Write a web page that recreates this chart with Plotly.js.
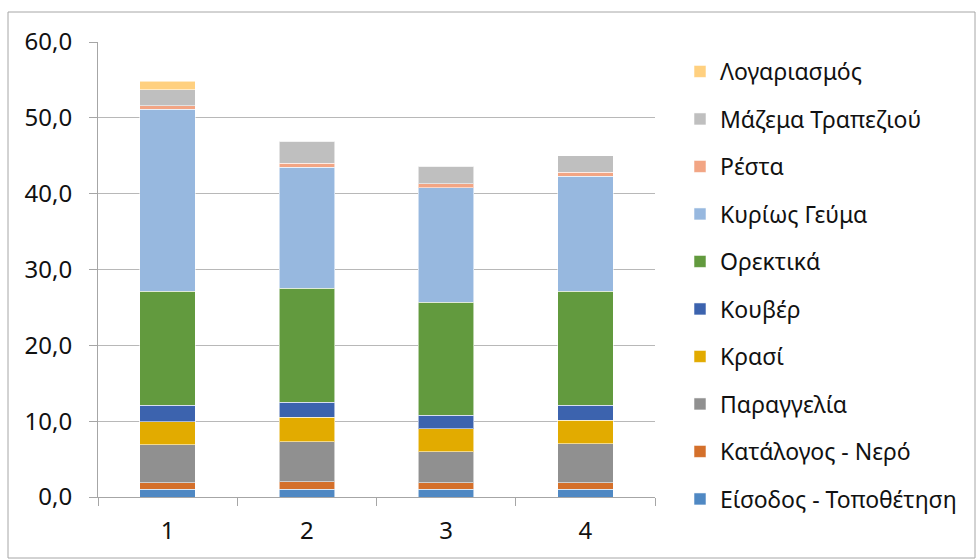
<!DOCTYPE html>
<html>
<head>
<meta charset="utf-8">
<script src="https://cdn.plot.ly/plotly-3.0.1.min.js"></script>
<style>
  html, body { margin: 0; padding: 0; background: #ffffff; }
  #chart { width: 976px; height: 559px; }
</style>
</head>
<body>
<div id="chart"></div>
<script>
// Restaurant service time per stage (minutes), four tables
const tables = ['1', '2', '3', '4'];

const stages = [
  'Είσοδος - Τοποθέτηση',
  'Κατάλογος - Νερό',
  'Παραγγελία',
  'Κρασί',
  'Κουβέρ',
  'Ορεκτικά',
  'Κυρίως Γεύμα',
  'Ρέστα',
  'Μάζεμα Τραπεζιού',
  'Λογαριασμός'
];

const eisodos     = [1.0, 1.0, 1.0, 1.0];
const katalogos   = [0.9, 1.0, 0.9, 0.9];
const paraggelia  = [5.0, 5.3, 4.1, 5.1];
const krasi       = [3.0, 3.2, 3.0, 3.1];
const kouver      = [2.2, 2.0, 1.8, 2.0];
const orektika    = [15.0, 15.0, 14.9, 15.0];
const kyrios      = [24.0, 16.0, 15.1, 15.2];
const resta       = [0.5, 0.5, 0.5, 0.5];
const mazema      = [2.1, 2.9, 2.3, 2.2];
const logariasmos = [1.1, 0.0, 0.0, 0.0];

const yTicks = [0, 10, 20, 30, 40, 50, 60];

const seriesValues = [eisodos, katalogos, paraggelia, krasi, kouver,
                      orektika, kyrios, resta, mazema, logariasmos];

const colors = ['#4f88c3', '#d4702b', '#909090', '#e2ab00', '#3c63ae',
                '#629a3e', '#97b8df', '#f2a584', '#bfbfbf', '#ffd07f'];

const FONT = 'Noto Sans, Liberation Sans, Arial, sans-serif';

// top stage first in the legend
const traces = stages.map((name, i) => ({
  type: 'bar',
  name: name,
  x: tables,
  y: seriesValues[i],
  legendgroup: 'g' + i,
  legendrank: stages.length - i,
  marker: { color: colors[i], line: { color: 'rgba(255,255,255,0.55)', width: 1 } },
  hovertemplate: name + ': %{y:.1f}<extra></extra>'
}));

// plot area in pixels: x 98..655, y 42..497
const W = 976, H = 559;
const L = 98, R = 655, T = 42, B = 497;
const px = v => (v - L) / (R - L);
const py = v => (B - v) / (B - T);

const layout = {
  width: W,
  height: H,
  margin: { l: L, r: W - R, t: T, b: H - B, pad: 0 },
  paper_bgcolor: '#ffffff',
  plot_bgcolor: '#ffffff',
  barmode: 'stack',
  bargap: 0.6,
  separators: ',.',
  font: { family: FONT, size: 23, color: '#111111' },
  xaxis: {
    type: 'category',
    tickson: 'boundaries',
    ticks: 'outside',
    ticklen: 8,
    tickcolor: '#a6a6a6',
    tickwidth: 1,
    showline: true,
    linecolor: '#a6a6a6',
    linewidth: 1,
    showgrid: false,
    ticklabelstandoff: 12,
    tickfont: { family: FONT, size: 24, color: '#111111' }
  },
  yaxis: {
    range: [0, 60],
    tickvals: yTicks,
    tickformat: '.1f',
    ticks: 'outside',
    ticklen: 8,
    tickcolor: '#a6a6a6',
    showline: true,
    linecolor: '#a6a6a6',
    linewidth: 1,
    showgrid: true,
    gridcolor: '#b8b8b8',
    gridwidth: 1,
    zeroline: false,
    ticklabelstandoff: 12,
    tickfont: { family: FONT, size: 24, color: '#111111' }
  },
  legend: {
    x: px(680),
    xanchor: 'left',
    y: py(50),
    yanchor: 'top',
    maxheight: H,
    traceorder: 'grouped',
    tracegroupgap: 14.6,
    font: { family: FONT, size: 23, color: '#111111' },
    bgcolor: 'rgba(0,0,0,0)'
  },
  shapes: [{
    type: 'rect',
    xref: 'paper', yref: 'paper',
    x0: px(8), x1: px(975), y0: py(558), y1: py(12),
    line: { color: '#a6a6a6', width: 1 },
    fillcolor: 'rgba(0,0,0,0)',
    layer: 'below'
  }]
};

Plotly.newPlot('chart', traces, layout, { displayModeBar: false, staticPlot: true });
</script>
</body>
</html>
